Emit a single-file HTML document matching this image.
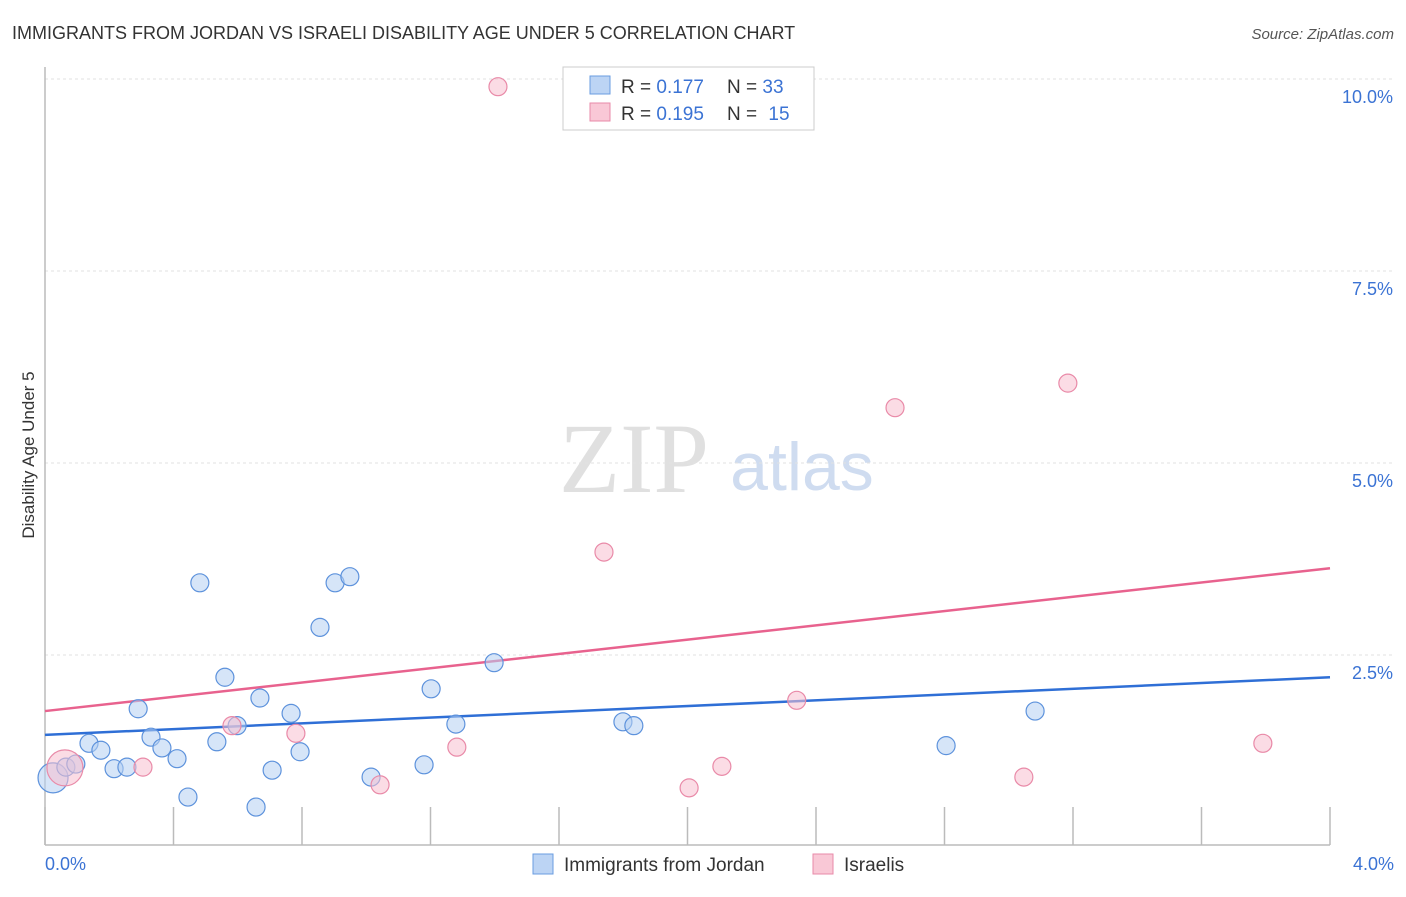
<!DOCTYPE html>
<html><head><meta charset="utf-8"><style>
body{margin:0;background:#fff;font-family:"Liberation Sans",sans-serif;}
</style></head><body>
<svg id="c" width="1406" height="892" font-family="Liberation Sans, sans-serif">
<text x="12" y="39" font-size="18" fill="#333">IMMIGRANTS FROM JORDAN VS ISRAELI DISABILITY AGE UNDER 5 CORRELATION CHART</text>
<text x="1394" y="39" font-size="15" fill="#555" font-style="italic" text-anchor="end">Source: ZipAtlas.com</text>
<text x="34" y="455" font-size="17" fill="#333" text-anchor="middle" transform="rotate(-90 34 455)">Disability Age Under 5</text>
<g><text x="634" y="492" font-size="100" fill="#e0e0e0" style="font-family:'Liberation Serif',serif" text-anchor="middle">ZIP</text><text x="802" y="490" font-size="68" fill="#cfdcf0" text-anchor="middle">atlas</text></g>
<g id="grid"></g><g id="axes"></g><g id="trend"></g><g id="pts"></g>
<g>
<rect x="563" y="67" width="251" height="63" fill="#fff" stroke="#ccc"/>
<rect x="590" y="76" width="20" height="18" fill="#bcd4f4" stroke="#6a9ce0"/>
<rect x="590" y="103" width="20" height="18" fill="#f9c8d6" stroke="#e88aa8"/>
<text x="621" y="93" font-size="19" fill="#333">R = <tspan fill="#3b73d4">0.177</tspan></text>
<text x="727" y="93" font-size="19" fill="#333">N = <tspan fill="#3b73d4">33</tspan></text>
<text x="621" y="120" font-size="19" fill="#333">R = <tspan fill="#3b73d4">0.195</tspan></text>
<text x="727" y="120" font-size="19" fill="#333">N = <tspan fill="#3b73d4" dx="6">15</tspan></text>
</g>
<g>
<rect x="533" y="854" width="20" height="20" fill="#bcd4f4" stroke="#6a9ce0"/>
<text x="564" y="871" font-size="19" fill="#333">Immigrants from Jordan</text>
<rect x="813" y="854" width="20" height="20" fill="#f9c8d6" stroke="#e88aa8"/>
<text x="844" y="871" font-size="19" fill="#333">Israelis</text>
</g>
</svg>
<script>
const blueX=[0.025,0.065,0.096,0.137,0.174,0.215,0.255,0.29,0.33,0.364,0.411,0.445,0.482,0.535,0.56,0.598,0.657,0.669,0.707,0.766,0.794,0.856,0.903,0.949,1.015,1.18,1.202,1.279,1.398,1.799,1.833,2.805,3.082];
const blueY=[0.90,1.04,1.08,1.35,1.26,1.02,1.04,1.80,1.43,1.29,1.15,0.65,3.44,1.37,2.21,1.58,0.52,1.94,1.00,1.74,1.24,2.86,3.44,3.52,0.91,1.07,2.06,1.60,2.40,1.63,1.58,1.32,1.77];
const blueR=[15,9,9,9,9,9,9,9,9,9,9,9,9,9,9,9,9,9,9,9,9,9,9,9,9,9,9,9,9,9,9,9,9];
const pinkX=[0.062,0.305,0.582,0.781,1.043,1.282,1.41,1.74,2.005,2.107,2.34,2.646,3.047,3.184,3.791];
const pinkY=[1.03,1.04,1.58,1.48,0.81,1.30,9.90,3.84,0.77,1.05,1.91,5.72,0.91,6.04,1.35];
const pinkR=[18,9,9,9,9,9,9,9,9,9,9,9,9,9,9];
const blueTrend=[1.46,2.21];
const pinkTrend=[1.77,3.63];
const yTicks=[2.5,5.0,7.5,10.0];
const xTicks=[0,0.4,0.8,1.2,1.6,2.0,2.4,2.8,3.2,3.6,4.0];
const xLabels=["0.0%","4.0%"];
const NS="http://www.w3.org/2000/svg";
const sx=v=>45+v*321.25, sy=v=>847-v*76.8;
function mk(tag,p,parent){const e=document.createElementNS(NS,tag);for(const k in p)e.setAttribute(k,p[k]);document.getElementById(parent).appendChild(e);return e;}
yTicks.forEach(t=>{
 const l=mk('line',{x1:45,x2:1392,y1:sy(t),y2:sy(t),stroke:'#e2e2e2','stroke-dasharray':'3,3'},'grid');
 
 
 const tx=mk('text',{x:1393,y:sy(t)+24,'font-size':18,fill:'#3b73d4','text-anchor':'end'},'grid');
 tx.textContent=t.toFixed(1)+'%';
 
 
});
const ax=mk('line',{x1:45,x2:1330,y1:845,y2:845,stroke:'#bbb','stroke-width':1.5},'axes');


const ay=mk('line',{x1:45,x2:45,y1:67,y2:845,stroke:'#bbb','stroke-width':1.5},'axes');


xTicks.forEach(t=>{
 const l=mk('line',{x1:sx(t),x2:sx(t),y1:807,y2:845,stroke:'#bbb','stroke-width':1.5},'axes');
 
 
});
[[0,xLabels[0],'start',45],[4,xLabels[1],'end',1394]].forEach(a=>{
 const tx=mk('text',{x:a[3],y:870,'font-size':18,fill:'#3b73d4','text-anchor':a[2]},'axes');
 tx.textContent=a[1];
 
 
});
[[blueTrend,'#2f6fd6','blue-trend-line'],[pinkTrend,'#e8628e','pink-trend-line']].forEach(a=>{
 const l=mk('line',{x1:sx(0),y1:sy(a[0][0]),x2:sx(4),y2:sy(a[0][1]),stroke:a[1],'stroke-width':2.5},'trend');
 
 
});
function pts(X,Y,R,fill,stroke,name){X.forEach((x,i)=>{
 const c=mk('circle',{cx:sx(x),cy:sy(Y[i]),r:R[i],fill:fill,'fill-opacity':0.55,stroke:stroke,'stroke-width':1.2},'pts');
 
 
});}
pts(blueX,blueY,blueR,'#b4cff2','#5d92dc','jordan-point');
pts(pinkX,pinkY,pinkR,'#f7c0d0','#e98aa8','israeli-point');
</script>
</body></html>
